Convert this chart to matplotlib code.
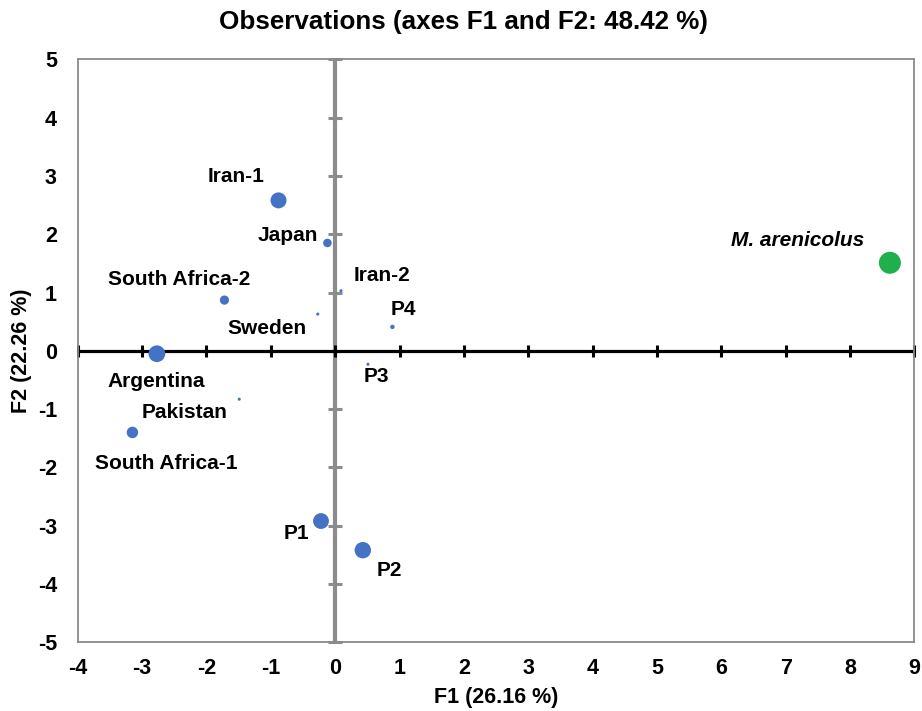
import matplotlib
matplotlib.use("Agg")
import matplotlib.pyplot as plt
import numpy as np

plt.rcParams['font.family'] = ['Liberation Sans', 'DejaVu Sans']
plt.rcParams['font.weight'] = 'bold'
plt.rcParams['axes.unicode_minus'] = False

# Data
labels = ["Iran-1", "Japan", "South Africa-2", "Iran-2", "Sweden", "P4",
          "Argentina", "P3", "Pakistan", "South Africa-1", "P1", "P2",
          "M. arenicolus"]
f1 = [-0.88, -0.12, -1.72, 0.09, -0.27, 0.89, -2.77, 0.51, -1.49, -3.15, -0.22, 0.43, 8.62]
f2 = [2.58, 1.85, 0.87, 1.03, 0.63, 0.41, -0.05, -0.23, -0.83, -1.40, -2.92, -3.42, 1.51]
sizes = [133, 38, 44, 5, 5, 10, 145, 5, 5, 68, 130, 140, 251]
groups = ["obs"] * 12 + ["ref"]

xticks = list(range(-4, 10))
yticks = list(range(-5, 6))

# label offsets in pixels (dx right, dy down) and alignment
label_offsets = {
    "Iran-1": (-42, -24, 'center'),
    "Japan": (-9, -7, 'right'),
    "South Africa-2": (-45, -21, 'center'),
    "Iran-2": (13, -15, 'left'),
    "Sweden": (-11, 14, 'right'),
    "P4": (11, -17, 'center'),
    "Argentina": (-1, 28, 'center'),
    "P3": (8, 12, 'center'),
    "Pakistan": (-12, 13, 'right'),
    "South Africa-1": (34, 31, 'center'),
    "P1": (-25, 12, 'center'),
    "P2": (27, 20, 'center'),
    "M. arenicolus": (-26, -22, 'right'),
}

colors = {"obs": "#4472C4", "ref": "#1FAF4B"}

fig = plt.figure(figsize=(9.22, 7.11), dpi=100)
ax = fig.add_axes([0.0843, 0.0966, 0.9074, 0.82])
ax.set_xlim(-4, 9)
ax.set_ylim(-5, 5)

for s in ax.spines.values():
    s.set_color('#8a8a8a')
    s.set_linewidth(1.3)

ax.set_xticks(xticks)
ax.set_yticks(yticks)
ax.tick_params(length=0, labelsize=15.5)
ax.tick_params(axis='x', pad=11)
ax.tick_params(axis='y', pad=15)
for t in ax.get_xticklabels() + ax.get_yticklabels():
    t.set_fontweight('bold')

# crosshair axes with tick marks
ax.axvline(0, color='#8c8c8c', lw=3, zorder=1)
ax.plot([0] * len(yticks), yticks, ls='none', marker='_', ms=9.5, mew=2.2,
        color='#8c8c8c', clip_on=False, zorder=1)
ax.axhline(0, color='black', lw=2.3, zorder=2)
ax.plot(xticks, [0] * len(xticks), ls='none', marker='|', ms=8, mew=2.2,
        color='black', clip_on=False, zorder=2)

ax.scatter(f1, f2, s=sizes, c=[colors[g] for g in groups], linewidths=0, zorder=3)

for lab, x, y in zip(labels, f1, f2):
    dx, dy, ha = label_offsets[lab]
    style = 'italic' if lab.startswith("M.") else 'normal'
    ax.annotate(lab, (x, y), xytext=(dx * 0.72, -dy * 0.72), textcoords='offset points',
                ha=ha, va='center', fontsize=15, fontweight='bold', fontstyle=style,
                zorder=4)

ax.set_xlabel("F1 (26.16 %)", fontsize=15.5, fontweight='bold')
ax.set_ylabel("F2 (22.26 %)", fontsize=15.5, fontweight='bold')
ax.xaxis.label.set_va('center')
ax.yaxis.label.set_va('center')
ax.xaxis.set_label_coords(0.5, -0.094)
ax.yaxis.set_label_coords(-0.067, 0.5)
fig.text(0.503, 0.969, "Observations (axes F1 and F2: 48.42 %)", ha='center', va='center',
         fontsize=18.7, fontweight='bold')

fig.savefig("out.png", dpi=100)
